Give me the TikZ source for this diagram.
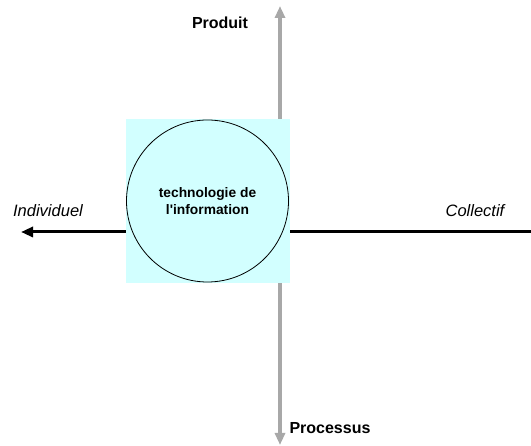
\documentclass[tikz,border=0pt]{standalone}
\usepackage{fontspec}
\setmainfont{Liberation Sans}
\usetikzlibrary{arrows.meta}
\definecolor{boxcyan}{HTML}{D2FFFF}
\definecolor{axisgray}{HTML}{A8A8A8}
\tikzset{
  axislabel/.style={font=\fontsize{16}{18}\selectfont\bfseries, inner sep=0pt},
  sidelabel/.style={font=\fontsize{16.5}{18}\selectfont\itshape, inner sep=0pt},
  grayaxis/.style={draw=axisgray, line width=3.5pt, {Triangle[length=12pt,width=10pt]}-{Triangle[length=12pt,width=10pt]}},
  blackaxis/.style={draw=black, line width=3pt, -{Triangle[length=12pt,width=10pt]}},
}
\begin{document}
\begin{tikzpicture}[x=1pt,y=-1pt]
\useasboundingbox (0,0) rectangle (531,446);
\coordinate (vtop) at (280,6);
\coordinate (vbot) at (280,445);
\coordinate (hright) at (531,232);
\coordinate (hleft) at (21,232);
\draw[grayaxis] (vbot) -- (vtop);
\draw[blackaxis] (hright) -- (hleft);
\node[fill=boxcyan, minimum size=164pt, inner sep=0pt] (sq) at (207.5,201) {};
\node[draw=black, line width=0.8pt, circle, minimum size=162pt, inner sep=0pt,
      align=center, font=\fontsize{13.8}{17}\selectfont\bfseries] (c) at (207.5,201) {technologie de\\l\textquotesingle information};
\node[axislabel] (prod) at (220,23) {Produit};
\node[axislabel] (proc) at (330,428) {Processus};
\node[sidelabel] (ind) at (48,211) {Individuel};
\node[sidelabel] (col) at (475,211) {Collectif};
\end{tikzpicture}
\end{document}
